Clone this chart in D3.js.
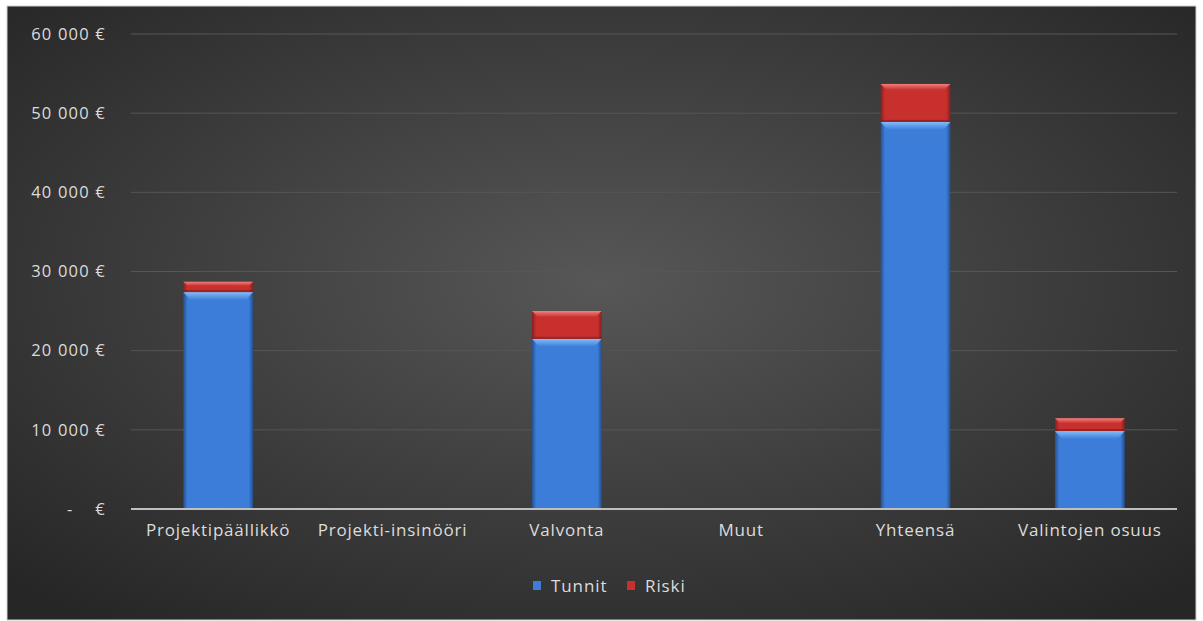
<!DOCTYPE html>
<html><head><meta charset="utf-8">
<script src="https://cdn.jsdelivr.net/npm/d3@7"></script>
<style>
html,body{margin:0;padding:0;background:#fff;}
svg{display:block;}
text{font-family:"Open Sans","Noto Sans",sans-serif;}
</style></head>
<body><svg id="c" width="1203" height="621"></svg>
<script>
const categories = ["Projektipäällikkö","Projekti-insinööri","Valvonta","Muut","Yhteensä","Valintojen osuus"];
const tunnit = [27400, 0, 21500, 0, 48900, 9850];
const riski  = [1300, 0, 3500, 0, 4800, 1600];
const yTicks = [0,10000,20000,30000,40000,50000,60000];
const seriesNames = ["Tunnit","Riski"];
const seriesColors = ["#3b7dd8","#c8302e"];

const svg = d3.select("#c");
const defs = svg.append("defs");
const bg = defs.append("radialGradient").attr("id","bg").attr("cx","50%").attr("cy","45%").attr("r","70%");
bg.append("stop").attr("offset","0%").attr("stop-color","#575757");
bg.append("stop").attr("offset","100%").attr("stop-color","#262626");

function barGrad(id, mid, edge){
  const g = defs.append("linearGradient").attr("id",id).attr("x1","0").attr("x2","1").attr("y1","0").attr("y2","0");
  g.append("stop").attr("offset","0%").attr("stop-color",edge);
  g.append("stop").attr("offset","6%").attr("stop-color",mid);
  g.append("stop").attr("offset","94%").attr("stop-color",mid);
  g.append("stop").attr("offset","100%").attr("stop-color",edge);
}
barGrad("gT","#3b7dd8","#25508f");
barGrad("gR","#c8302e","#852020");
function topGrad(id, c){
  const g = defs.append("linearGradient").attr("id",id).attr("x1","0").attr("x2","0").attr("y1","0").attr("y2","1");
  g.append("stop").attr("offset","0%").attr("stop-color",c).attr("stop-opacity",0.9);
  g.append("stop").attr("offset","100%").attr("stop-color",c).attr("stop-opacity",0);
}
topGrad("hT","#8cc4ff");
topGrad("hR","#f58a85");

svg.append("rect").attr("x",7).attr("y",6).attr("width",1189).attr("height",614)
  .attr("fill","url(#bg)").attr("stroke","#d0d0d0").attr("stroke-width",1);

const x = d3.scaleBand().domain(categories).range([131,1177]).paddingInner(0.6).paddingOuter(0.3);
const y = d3.scaleLinear().domain([0,60000]).range([509,34]);

const fmt = v => v===0 ? "-    €" : d3.format(",")(v).replace(/,/g," ")+" €";

// gridlines
svg.append("g").selectAll("line").data(yTicks.filter(d=>d>0)).join("line")
  .attr("x1",131).attr("x2",1177).attr("y1",d=>y(d)).attr("y2",d=>y(d))
  .attr("stroke","#565656").attr("stroke-width",1);

// y axis labels
const yAxis = d3.axisLeft(y).tickValues(yTicks).tickFormat(fmt).tickSize(0).tickPadding(0);
const ya = svg.append("g").attr("transform","translate(106,0)").call(yAxis);
ya.select(".domain").remove();
ya.selectAll("text").attr("fill","#dcdcdc").style("font-size","16.5px").style("letter-spacing","1.2px")
  .style("white-space","pre").style("font-family","'Open Sans','Noto Sans',sans-serif");

const stacked = categories.map((c,i)=>({c, t:tunnit[i], r:riski[i]}));
const bw = x.bandwidth();
const g = svg.append("g");
stacked.forEach(d=>{
  if(d.t>0){
    const x0=x(d.c), y0=y(d.t), h=y(0)-y(d.t);
    g.append("rect").attr("x",x0).attr("y",y0).attr("width",bw).attr("height",h).attr("fill","url(#gT)");
    g.append("path").attr("d",`M${x0},${y0}L${x0+bw},${y0}L${x0+bw-7},${y0+8}L${x0+7},${y0+8}Z`).attr("fill","url(#hT)");
  }
  if(d.r>0){
    const x0=x(d.c), y0=y(d.t+d.r), h=y(d.t)-y(d.t+d.r);
    g.append("rect").attr("x",x0).attr("y",y0).attr("width",bw).attr("height",h).attr("fill","url(#gR)");
    const e=Math.min(6,h/2.5);
    g.append("path").attr("d",`M${x0},${y0}L${x0+bw},${y0}L${x0+bw-e},${y0+e}L${x0+e},${y0+e}Z`).attr("fill","url(#hR)");
    g.append("rect").attr("x",x0).attr("y",y0+h-2).attr("width",bw).attr("height",2).attr("fill","#7a1c1c").attr("opacity",0.6);
  }
});

// x axis
const xa = svg.append("g").attr("transform","translate(0,509)").call(d3.axisBottom(x).tickSize(0).tickPadding(15));
xa.select(".domain").attr("stroke","#bfbfbf").attr("stroke-width",2).attr("d","M131,0H1177");
xa.selectAll("text").attr("fill","#dcdcdc").style("font-size","17px").style("letter-spacing","0.8px")
  .style("font-family","'Open Sans','Noto Sans',sans-serif");

// legend
const leg = svg.append("g");
const legX=[533,627];
seriesNames.forEach((n,i)=>{
  leg.append("rect").attr("x",legX[i]).attr("y",581).attr("width",8).attr("height",9).attr("fill",seriesColors[i]);
  leg.append("text").attr("x",legX[i]+18).attr("y",586).attr("dy","0.35em").attr("fill","#dcdcdc")
    .style("font-size","17px").style("letter-spacing","0.9px").text(n);
});
</script></body></html>
